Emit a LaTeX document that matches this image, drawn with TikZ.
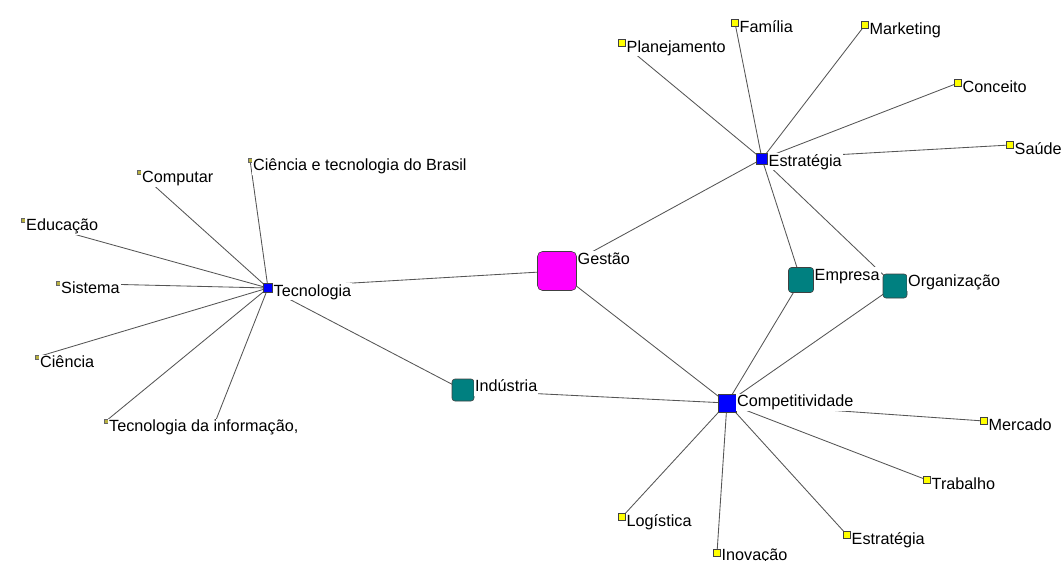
\documentclass[tikz,border=0pt]{standalone}
\usepackage{fontspec}
\setmainfont{Liberation Sans}
\usetikzlibrary{backgrounds}

\definecolor{edgegray}{HTML}{555555}
\definecolor{groupteal}{HTML}{008080}
\definecolor{hubblue}{HTML}{0000FF}
\definecolor{leafyellow}{HTML}{FFFF00}
\definecolor{coremagenta}{HTML}{FF00FF}
\definecolor{tleafolive}{HTML}{B8B040}

\tikzset{
  sq/.style={draw=black!75, line width=0.6pt, rectangle, inner sep=0pt, outer sep=0pt},
  hub/.style={sq, fill=hubblue, minimum size=#1},
  leaf/.style={sq, fill=leafyellow, line width=0.5pt, minimum size=7},
  tleaf/.style={sq, fill=tleafolive, draw=black!60, line width=0.4pt, minimum size=4},
  group/.style={sq, fill=groupteal, rounded corners=3pt, minimum size=#1},
  core/.style={sq, fill=coremagenta, rounded corners=5pt, minimum size=39},
  lbl/.style={fill=white, inner sep=1pt, text height=12pt, text depth=3pt,
              anchor=north west, yshift=0.5pt, font=\fontsize{16.2}{19}\selectfont},
  link/.style={draw=edgegray, line width=0.85pt},
}

\begin{document}
\begin{tikzpicture}[x=1pt, y=-1pt]
\useasboundingbox (0,0) rectangle (1063,560);

% central nodes
\node[core] (ges) at (557,271) {};
\node[hub=9] (tec) at (268,288) {};
\node[hub=11] (est) at (762,159) {};
\node[hub=18] (cpt) at (727,403) {};
\node[group=22] (ind) at (463,390) {};
\node[group=25] (emp) at (801,280) {};
\node[group=24] (org) at (895,286) {};

% leaves of Tecnologia
\node[tleaf] (cetb) at (250,160) {};
\node[tleaf] (comp) at (139,172) {};
\node[tleaf] (edu) at (23,220) {};
\node[tleaf] (sis) at (58,283) {};
\node[tleaf] (cie) at (37,357) {};
\node[tleaf] (ti) at (106,421) {};
\coordinate (tih) at (214,425);

% leaves of Estratégia
\node[leaf] (plan) at (622,43) {};
\node[leaf] (fam) at (735,23) {};
\node[leaf] (mkt) at (865,25) {};
\node[leaf] (con) at (958,83) {};
\node[leaf] (sau) at (1010,145) {};

% leaves of Competitividade
\node[leaf] (mer) at (984,421) {};
\node[leaf] (tra) at (927,480) {};
\node[leaf] (est2) at (847,535) {};
\node[leaf] (log) at (622,517) {};
\node[leaf] (ino) at (717,553) {};

% labels
\node[lbl] (gesL) at (ges.north east) {Gestão};
\node[lbl] (tecL) at (tec.north east) {Tecnologia};
\node[lbl] (estL) at (est.north east) {Estratégia};
\node[lbl] (cptL) at (cpt.north east) {Competitividade};
\node[lbl] (indL) at (ind.north east) {Indústria};
\node[lbl] (empL) at (emp.north east) {Empresa};
\node[lbl] (orgL) at (org.north east) {Organização};
\node[lbl] (cetbL) at (cetb.north east) {Ciência e tecnologia do Brasil};
\node[lbl] (compL) at (comp.north east) {Computar};
\node[lbl] (eduL) at (edu.north east) {Educação};
\node[lbl] (sisL) at (sis.north east) {Sistema};
\node[lbl] (cieL) at (cie.north east) {Ciência};
\node[lbl] (tiL) at (ti.north east) {Tecnologia da informação,};
\node[lbl] (planL) at (plan.north east) {Planejamento};
\node[lbl] (famL) at (fam.north east) {Família};
\node[lbl] (mktL) at (mkt.north east) {Marketing};
\node[lbl] (conL) at (con.north east) {Conceito};
\node[lbl] (sauL) at (sau.north east) {Saúde};
\node[lbl] (merL) at (mer.north east) {Mercado};
\node[lbl] (traL) at (tra.north east) {Trabalho};
\node[lbl] (est2L) at (est2.north east) {Estratégia};
\node[lbl] (logL) at (log.north east) {Logística};
\node[lbl, yshift=1.5pt] (inoL) at (ino.north east) {Inovação};

% connectors, behind nodes and labels
\begin{scope}[on background layer]
  \foreach \t in {cetb,comp,edu,sis,cie,ti,tih,ges,ind}
    \draw[link] (tec.center) -- (\t.center);
  \foreach \t in {plan,fam,mkt,con,sau,ges,emp,org}
    \draw[link] (est.center) -- (\t.center);
  \foreach \t in {ges,ind,emp,org,mer,tra,est2,ino,log}
    \draw[link] (cpt.center) -- (\t.center);
\end{scope}
\end{tikzpicture}
\end{document}
